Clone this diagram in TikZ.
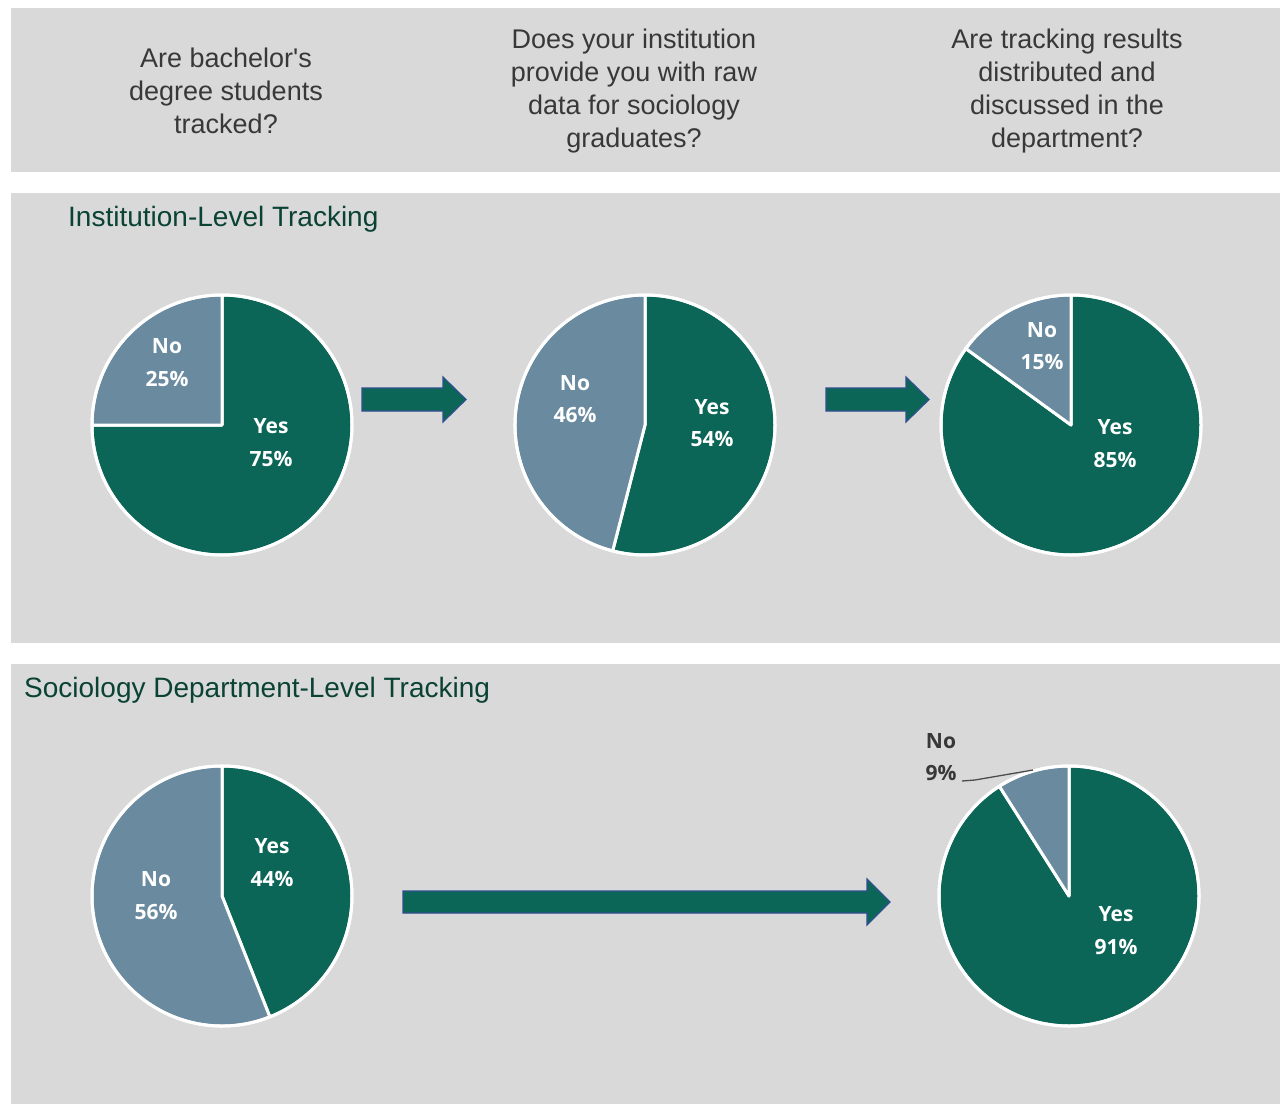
\documentclass[tikz,border=0pt]{standalone}
\usepackage{fontspec}
\setmainfont{Liberation Sans}
\newfontfamily\lblfont{Open Sans}[BoldFont={* Bold}]
\definecolor{bgpanel}{HTML}{D9D9D9}
\definecolor{yescol}{HTML}{0B6657}
\definecolor{nocol}{HTML}{6A8B9F}
\definecolor{hdrtext}{HTML}{383838}
\definecolor{titletext}{HTML}{0A4234}
\definecolor{arrowedge}{HTML}{2F4F8F}
\tikzset{
  panel/.style={fill=bgpanel, draw=none},
  hdr/.style={text=hdrtext, align=center, font=\fontsize{27}{33}\selectfont, inner sep=0pt},
  ttl/.style={text=titletext, anchor=west, font=\fontsize{28}{32}\selectfont, inner sep=0pt},
  lbl/.style={text=white, align=center, font=\lblfont\bfseries\fontsize{21}{32.5}\selectfont, inner sep=0pt},
  yesslice/.style={fill=yescol, draw=white, line width=3pt, line join=round},
  noslice/.style={fill=nocol, draw=white, line width=3pt, line join=round},
  blockarrow/.style={fill=yescol, draw=arrowedge, line width=1.2pt, line join=miter}
}
\newcommand{\piechart}[2]{%
  \filldraw[yesslice] (#1) -- ++(-90:130) arc[start angle=-90, end angle=#2, radius=130] -- cycle;
  \filldraw[noslice] (#1) -- ++(#2:130) arc[start angle=#2, end angle=270, radius=130] -- cycle;
  \draw[white, line width=3pt] (#1) circle[radius=130];
}
\begin{document}
\begin{tikzpicture}[x=1pt,y=-1pt]
\useasboundingbox (0,0) rectangle (1280,1105);
\fill[white] (0,0) rectangle (1280,1105);
% panels
\fill[panel] (11,8) rectangle (1280,172);
\fill[panel] (11,193) rectangle (1280,643);
\fill[panel] (11,664) rectangle (1280,1104);

% header questions
\node[hdr] (q1) at (226,91) {Are bachelor\textquotesingle s\\degree students\\tracked?};
\node[hdr] (q2) at (634,91.5) {Does your institution\\provide you with raw\\data for sociology\\graduates?};
\node[hdr] (q3) at (1067,91.5) {Are tracking results\\distributed and\\discussed in the\\department?};

% titles
\node[ttl] (t1) at (68,219) {Institution-Level Tracking};
\node[ttl] (t2) at (24,690) {Sociology Department-Level Tracking};

% pies
\coordinate (p1) at (222,425);
\coordinate (p2) at (645,425);
\coordinate (p3) at (1071,425);
\coordinate (p4) at (222,896);
\coordinate (p5) at (1069,896);
\piechart{p1}{180}
\piechart{p2}{104.4}
\piechart{p3}{216}
\piechart{p4}{68.4}
\piechart{p5}{237.6}

% labels
\node[lbl] (l1n) at (167,362.5) {No\\25\%};
\node[lbl] (l1y) at (271,442.5) {Yes\\75\%};
\node[lbl] (l2n) at (575,399) {No\\46\%};
\node[lbl] (l2y) at (712,423) {Yes\\54\%};
\node[lbl] (l3n) at (1042,346) {No\\15\%};
\node[lbl] (l3y) at (1115,443.5) {Yes\\85\%};
\node[lbl] (l4y) at (272,862.5) {Yes\\44\%};
\node[lbl] (l4n) at (156,895.5) {No\\56\%};
\node[lbl] (l5y) at (1116,930.5) {Yes\\91\%};
\node[lbl, text=hdrtext] (l5n) at (941,757) {No\\9\%};
\coordinate (lead1) at (962,781);
\coordinate (lead2) at (975,780);
\coordinate (lead3) at (1033,770);
\draw[color=hdrtext!90, line width=1.3pt] (lead1) -- (lead2) -- (lead3);

% block arrows
\draw[blockarrow] (362,388) -- (443,388) -- (443,377) -- (466,399.5) -- (443,422) -- (443,411) -- (362,411) -- cycle;
\draw[blockarrow] (826,388) -- (906,388) -- (906,377) -- (929,399.5) -- (906,422) -- (906,411) -- (826,411) -- cycle;
\draw[blockarrow] (403,891) -- (867,891) -- (867,879) -- (890,902) -- (867,925) -- (867,913) -- (403,913) -- cycle;
\end{tikzpicture}
\end{document}
